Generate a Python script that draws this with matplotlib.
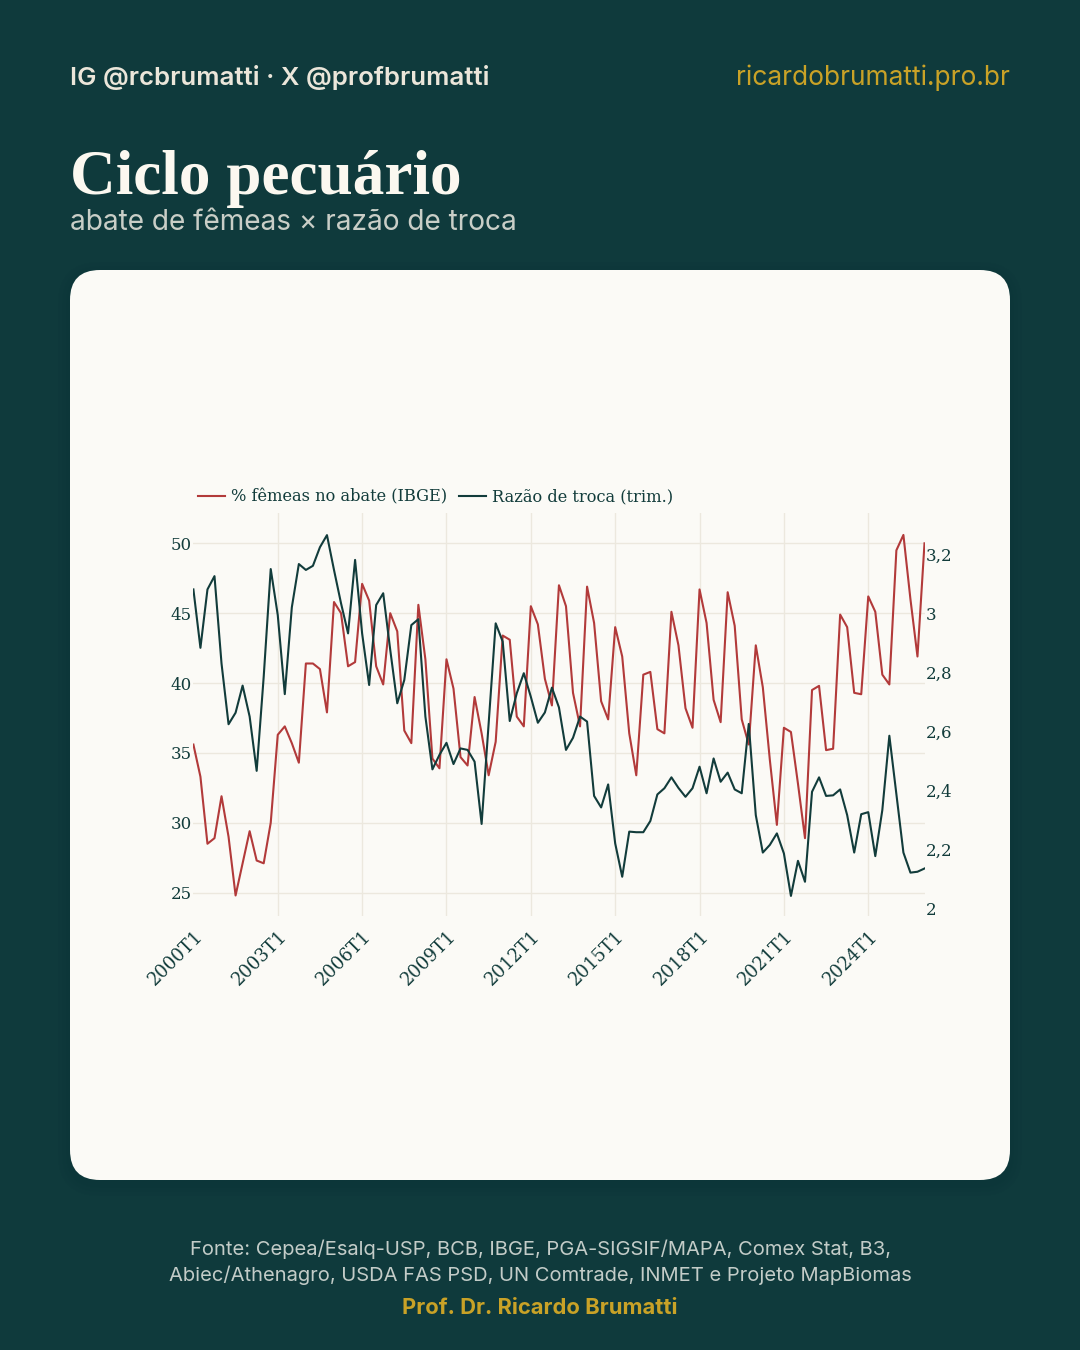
import matplotlib
matplotlib.use("Agg")
import matplotlib.pyplot as plt
from matplotlib.patches import FancyBboxPatch
from matplotlib.ticker import FixedLocator, FuncFormatter

BG = "#0f3a3c"
CARD = "#fbfaf6"
RED = "#b23a3a"
TEAL = "#123c3b"
GOLD = "#c9a227"
GRID = "#ece8de"

# % femeas no abate (IBGE), trimestral 2000T1..2026T1
femeas = [35.6, 33.3, 28.5, 28.9, 31.9, 29.0, 24.8, 27.1, 29.4, 27.3, 27.1, 30.0,
          36.3, 36.9, 35.7, 34.3, 41.4, 41.4, 41.0, 37.9, 45.8, 45.0, 41.2, 41.5,
          47.1, 45.9, 41.2, 39.9, 45.0, 43.7, 36.6, 35.7, 45.6, 41.7, 34.6, 33.9,
          41.7, 39.6, 34.7, 34.1, 39.0, 36.4, 33.4, 35.8, 43.4, 43.1, 37.6, 36.9,
          45.5, 44.2, 40.3, 38.4, 47.0, 45.5, 39.3, 36.9, 46.9, 44.3, 38.7, 37.4,
          44.0, 41.9, 36.4, 33.4, 40.6, 40.8, 36.7, 36.4, 45.1, 42.7, 38.2, 36.8,
          46.7, 44.3, 38.8, 37.2, 46.5, 44.1, 37.4, 35.6, 42.7, 39.7, 34.5, 29.85,
          36.8, 36.5, 32.8, 28.9, 39.5, 39.8, 35.2, 35.3, 44.9, 44.0, 39.3, 39.2,
          46.2, 45.1, 40.6, 39.9, 49.5, 50.6, 46.0, 41.9, 50.0]

# razao de troca (trim.)
razao = [3.080, 2.882, 3.080, 3.125, 2.829, 2.623, 2.662, 2.754, 2.649, 2.465, 2.784, 3.149,
         2.993, 2.725, 3.019, 3.166, 3.146, 3.160, 3.223, 3.264, 3.146, 3.033, 2.931, 3.180,
         2.931, 2.756, 3.027, 3.067, 2.875, 2.694, 2.773, 2.959, 2.979, 2.649, 2.470, 2.519,
         2.560, 2.488, 2.541, 2.536, 2.496, 2.285, 2.626, 2.965, 2.903, 2.634, 2.728, 2.796,
         2.716, 2.628, 2.663, 2.747, 2.680, 2.536, 2.577, 2.649, 2.632, 2.380, 2.341, 2.419,
         2.219, 2.106, 2.259, 2.257, 2.257, 2.295, 2.385, 2.406, 2.443, 2.407, 2.377, 2.406,
         2.479, 2.389, 2.507, 2.428, 2.459, 2.402, 2.389, 2.624, 2.315, 2.188, 2.214, 2.253,
         2.185, 2.041, 2.160, 2.089, 2.394, 2.443, 2.380, 2.382, 2.402, 2.315, 2.188, 2.318,
         2.325, 2.176, 2.332, 2.584, 2.386, 2.188, 2.120, 2.123, 2.134]

quarters = [f"{2000 + i // 4}T{i % 4 + 1}" for i in range(len(femeas))]
femeas_ticks = [25, 30, 35, 40, 45, 50]
razao_ticks = [2, 2.2, 2.4, 2.6, 2.8, 3, 3.2]
TICK_EVERY = 12

fig = plt.figure(figsize=(10.8, 13.5), dpi=100)
fig.patch.set_facecolor(BG)

# layer in pixel coords for card and texts
bg = fig.add_axes([0, 0, 1, 1])
bg.set_xlim(0, 1080)
bg.set_ylim(1350, 0)
bg.axis("off")
for i, a in enumerate([0.05, 0.05, 0.05]):
    s = 4 + i * 4
    bg.add_patch(FancyBboxPatch((70 - s, 270 - s + 4), 940 + 2 * s, 910 + 2 * s,
                                boxstyle=f"round,pad=0,rounding_size={30 + s}",
                                fc="#06262a", ec="none", alpha=a))
bg.add_patch(FancyBboxPatch((70, 270), 940, 910, boxstyle="round,pad=0,rounding_size=30",
                            fc=CARD, ec="none"))

bg.text(70, 78, "IG @rcbrumatti · X @profbrumatti", va="center", ha="left",
        fontsize=18.6, family="Inter", weight="semibold", color="#ebe6da")
bg.text(1010, 78, "ricardobrumatti.pro.br", va="center", ha="right",
        fontsize=19, family="Inter", color=GOLD)
bg.text(70, 194, "Ciclo pecuário", va="baseline", ha="left",
        fontsize=45.5, family="Liberation Serif", weight="bold", color="#fbf8f0")
bg.text(70, 223, "abate de fêmeas × razão de troca", va="center", ha="left",
        fontsize=20.2, family="Inter", color="#c9cec7")

bg.text(540, 1249, "Fonte: Cepea/Esalq-USP, BCB, IBGE, PGA-SIGSIF/MAPA, Comex Stat, B3,",
        ha="center", va="center", fontsize=14.5, family="Inter", color="#c3ccc8")
bg.text(540, 1275, "Abiec/Athenagro, USDA FAS PSD, UN Comtrade, INMET e Projeto MapBiomas",
        ha="center", va="center", fontsize=14.5, family="Inter", color="#c3ccc8")
bg.text(540, 1308, "Prof. Dr. Ricardo Brumatti", ha="center", va="center",
        fontsize=15.8, family="Inter", weight="bold", color=GOLD)

# chart
x = list(range(len(femeas)))
ax = fig.add_axes([193.4 / 1080, 1 - 916 / 1350, 731.1 / 1080, 403 / 1350])
ax.patch.set_alpha(0)
ax2 = ax.twinx()

l1, = ax.plot(x, femeas, color=RED, lw=1.5, label="% fêmeas no abate (IBGE)")
l2, = ax2.plot(x, razao, color=TEAL, lw=1.5, label="Razão de troca (trim.)")

ax.set_xlim(0, len(femeas) - 1)
ax.set_ylim(23.33, 52.17)
ax2.set_ylim(1.973, 3.339)

xt = x[::TICK_EVERY]
ax.xaxis.set_major_locator(FixedLocator(xt))
ax.set_xticklabels([quarters[i] for i in xt], rotation=45, ha="right",
                   rotation_mode="anchor", family="DejaVu Serif", fontsize=13, color=TEAL)
ax.yaxis.set_major_locator(FixedLocator(femeas_ticks))
ax2.yaxis.set_major_locator(FixedLocator(razao_ticks))
ax2.yaxis.set_major_formatter(FuncFormatter(lambda v, p: f"{v:g}".replace(".", ",")))

ax.tick_params(axis="x", length=0, pad=8)
ax.tick_params(axis="y", length=0, pad=1, labelsize=12, labelcolor=TEAL)
ax2.tick_params(axis="y", length=0, pad=1, labelsize=12, labelcolor=TEAL)
for t in ax.get_yticklabels() + ax2.get_yticklabels():
    t.set_family("DejaVu Serif")

ax.grid(True, color=GRID, lw=1)
ax.set_axisbelow(True)
ax.get_xgridlines()[0].set_visible(False)
for a in (ax, ax2):
    for sp in a.spines.values():
        sp.set_visible(False)

ax2.legend(handles=[l1, l2], loc="center left", bbox_to_anchor=(0.006, 1.04), ncol=2,
           frameon=False, borderpad=0, borderaxespad=0, handlelength=1.7,
           handletextpad=0.35, columnspacing=0.7,
           prop={"family": "DejaVu Serif", "size": 11.7}, labelcolor=TEAL)

fig.savefig("out.png", dpi=100, facecolor=BG)
